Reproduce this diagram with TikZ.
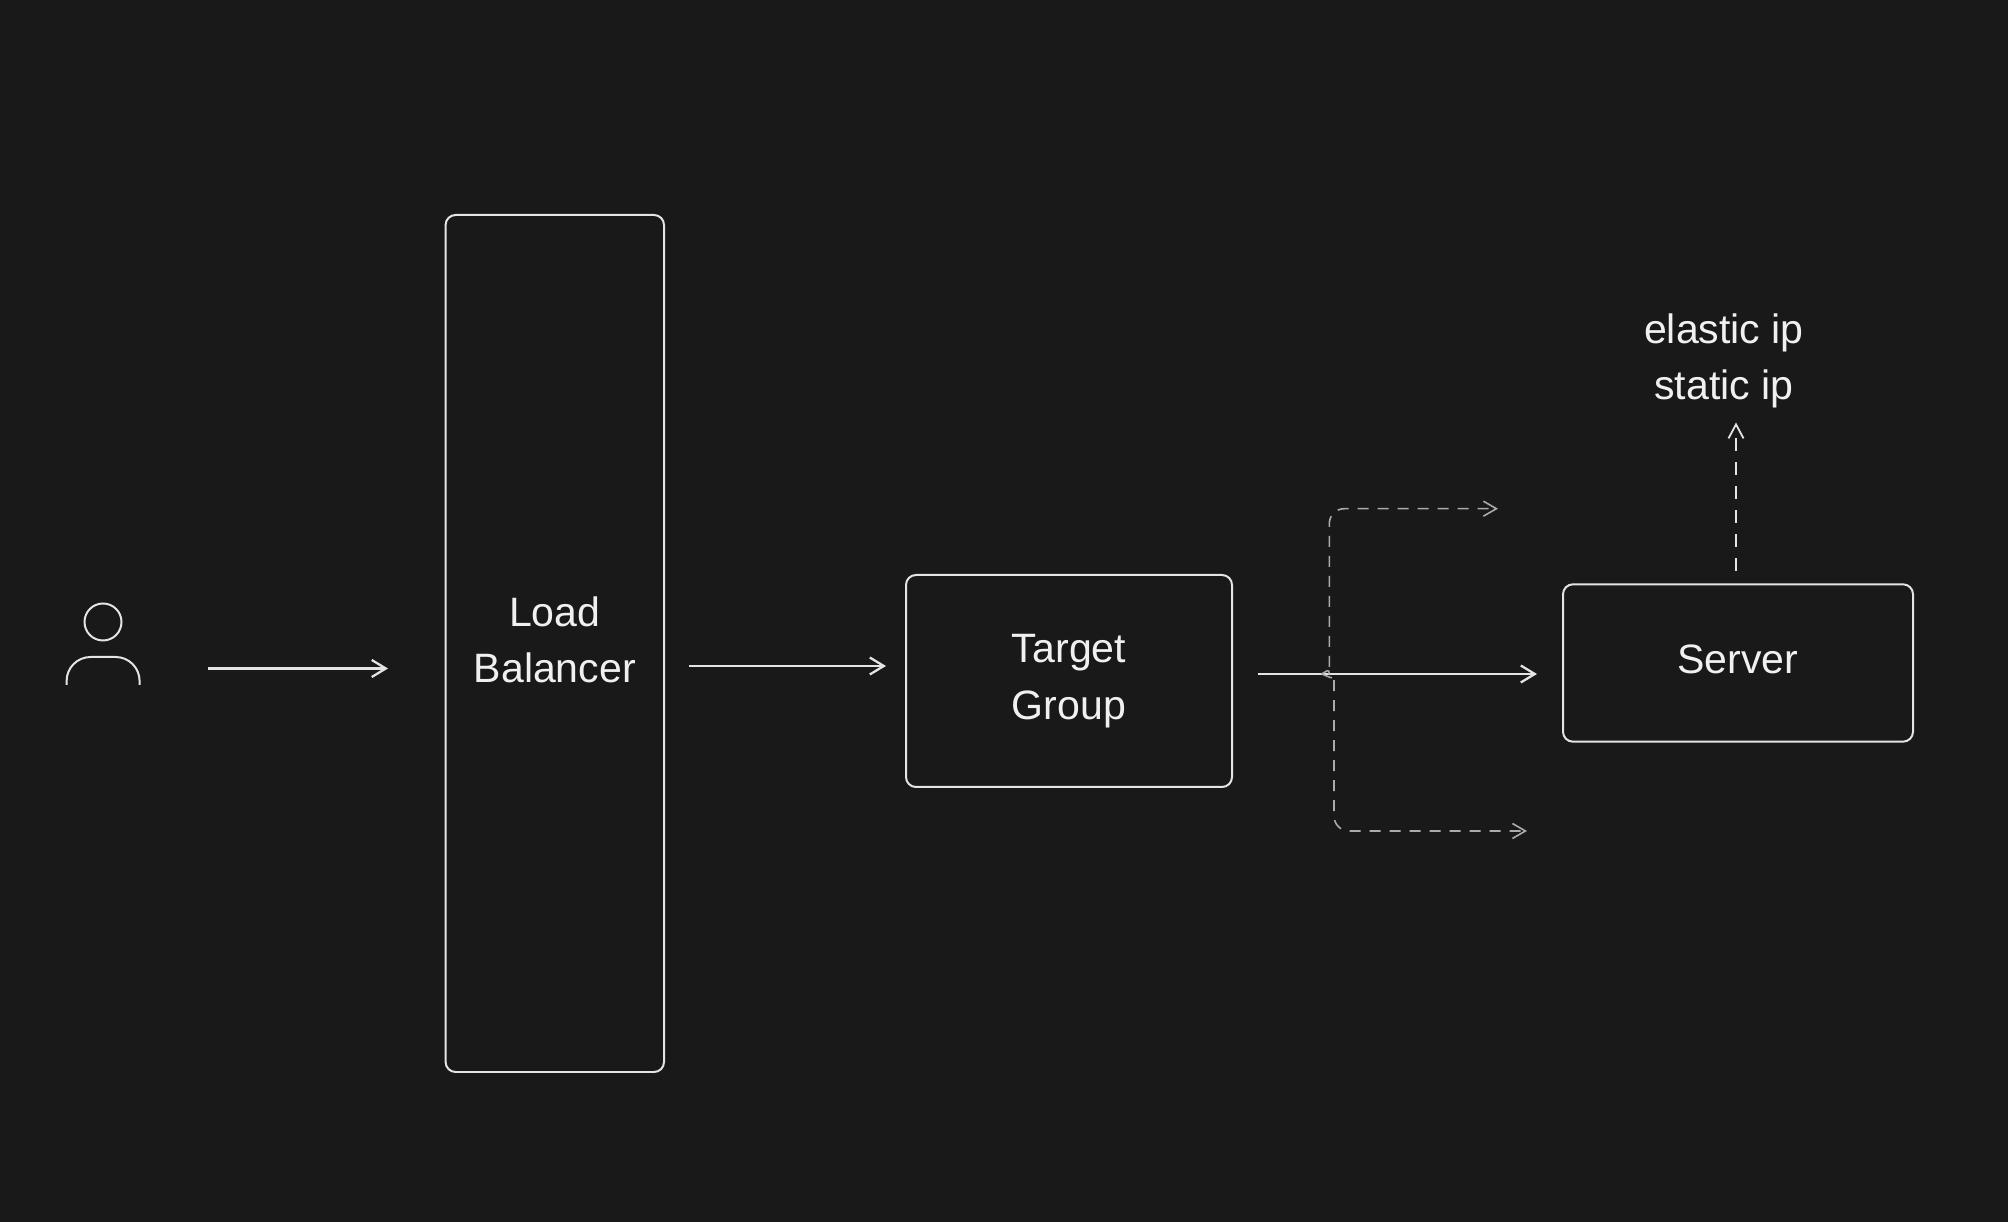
\documentclass[tikz,border=0pt]{standalone}
\usepackage{fontspec}
\setsansfont{Liberation Sans}
\usetikzlibrary{arrows.meta}
\definecolor{canvas}{HTML}{191919}
\definecolor{ink}{HTML}{E4E4E4}
\definecolor{inkdim}{HTML}{ABABAB}
\definecolor{inktext}{HTML}{F0F0F0}
\tikzset{
  font=\sffamily\fontsize{20.6}{28.4}\selectfont,
  >={Straight Barb[length=7bp,width=8.5bp]},
  block/.style={draw=ink,text=inktext,rounded corners=5pt,align=center,line width=1pt,inner sep=0pt},
  label/.style={text=inktext,align=center,inner sep=0pt},
  flow/.style={->,draw=ink,line width=1.15pt},
  branch/.style={->,draw=inkdim,line width=.8pt,dash pattern=on 5.5bp off 4.5bp,rounded corners=7.5bp,>={Straight Barb[length=6.5bp,width=7.5bp]}},
  ipflow/.style={->,draw=ink,line width=.9pt,dash pattern=on 6.5bp off 5.5bp,>={Straight Barb[length=7bp,width=7.5bp]}}
}
\begin{document}
\begin{tikzpicture}[x=5bp,y=5bp]
  \fill[canvas] (0,0) rectangle (200.8,122.2);
  \node[block,minimum width=109.2bp,minimum height=428.5bp,text depth=3.8bp] (lb) at (55.48,57.85) {Load\\Balancer};
  \node[block,minimum width=163bp,minimum height=106bp] (tg) at (106.9,54.1) {Target\\Group};
  \node[block,minimum width=175bp,minimum height=78.7bp,text depth=4bp] (server) at (173.8,55.9) {Server};
  \node[label] (ip) at (172.4,86.1) {elastic ip\\static ip};
  \node[circle,draw=ink,line width=1pt,minimum size=18.5bp,inner sep=0pt] (head) at (10.3,60) {};

  \coordinate (shoulderl) at (6.66,53.7);
  \coordinate (shoulderr) at (13.96,53.7);
  \coordinate (userout) at (20.75,55.35);
  \coordinate (lbin) at (38.8,55.35);
  \coordinate (lbout) at (68.9,55.6);
  \coordinate (tgin) at (88.6,55.6);
  \coordinate (tgout) at (125.75,54.8);
  \coordinate (serverin) at (153.7,54.8);
  \coordinate (hub) at (132.17,54.8);
  \coordinate (upend) at (149.8,71.33);
  \coordinate (downend) at (152.7,39.1);
  \coordinate (ipout) at (173.6,65.1);
  \coordinate (ipin) at (173.6,79.95);

  % Shoulders of the user, then the arrows from left to right
  \draw[ink,line width=1pt,rounded corners=12bp] (shoulderl) -- ++(0,2.8) -| (shoulderr);
  \draw[flow] (userout)--(lbin);
  \draw[flow] (lbout)--(tgin);
  \draw[flow] (tgout)--(serverin);
  \draw[branch] (hub) .. controls (132.6,55) and (132.93,55.5) .. (132.93,56.2) |- (upend);
  \draw[branch] (hub) .. controls (132.8,54.6) and (133.4,54.1) .. (133.4,53.2) |- (downend);
  \draw[ipflow] (ipout)--(ipin);
\end{tikzpicture}
\end{document}
